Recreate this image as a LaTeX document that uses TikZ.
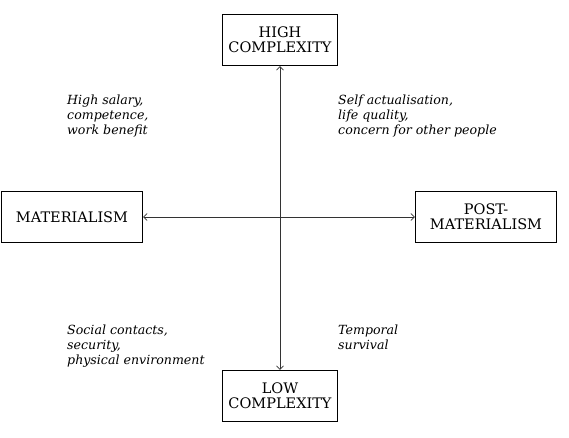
\documentclass[tikz,border=0pt]{standalone}
\usepackage{fontspec}
\setmainfont{DejaVu Serif}
\usetikzlibrary{arrows.meta}

\begin{document}
\begin{tikzpicture}
  [x=1pt,y=-1pt,
    every node/.style={font=\fontsize{14.5}{15}\selectfont,align=center},
    pole/.style={draw,line width=1.4pt,minimum height=51pt,inner sep=2pt},
    quadrant/.style={anchor=north west,align=left,inner sep=0pt,font=\fontsize{12.6}{15}\selectfont\itshape},
    axis/.style={{Straight Barb[length=3.5pt,width=7pt]}-{Straight Barb[length=3.5pt,width=7pt]},line width=0.6pt,black!80},
]
  \useasboundingbox (0,0) rectangle (569,438);
  % the four poles
  \node[pole,minimum width=115pt] (high) at (280,40) {HIGH\\COMPLEXITY};
  \node[pole,minimum width=115pt] (low) at (280,396) {LOW\\COMPLEXITY};
  \node[pole,minimum width=141pt] (mat) at (72,217) {MATERIALISM};
  \node[pole,minimum width=141pt] (post) at (486,217) {POST-\\MATERIALISM};
  % axes
  \draw[axis] (high) -- (low);
  \draw[axis] (mat) -- (post);
  % quadrant labels
  \node[quadrant] (hm) at (67,95) {High salary,\\competence,\\work benefit};
  \node[quadrant] (hp) at (338,95) {Self actualisation,\\life quality,\\concern for other people};
  \node[quadrant] (lm) at (67,325) {Social contacts,\\security,\\physical environment};
  \node[quadrant] (lp) at (338,325) {Temporal\\survival};
\end{tikzpicture}
\end{document}
